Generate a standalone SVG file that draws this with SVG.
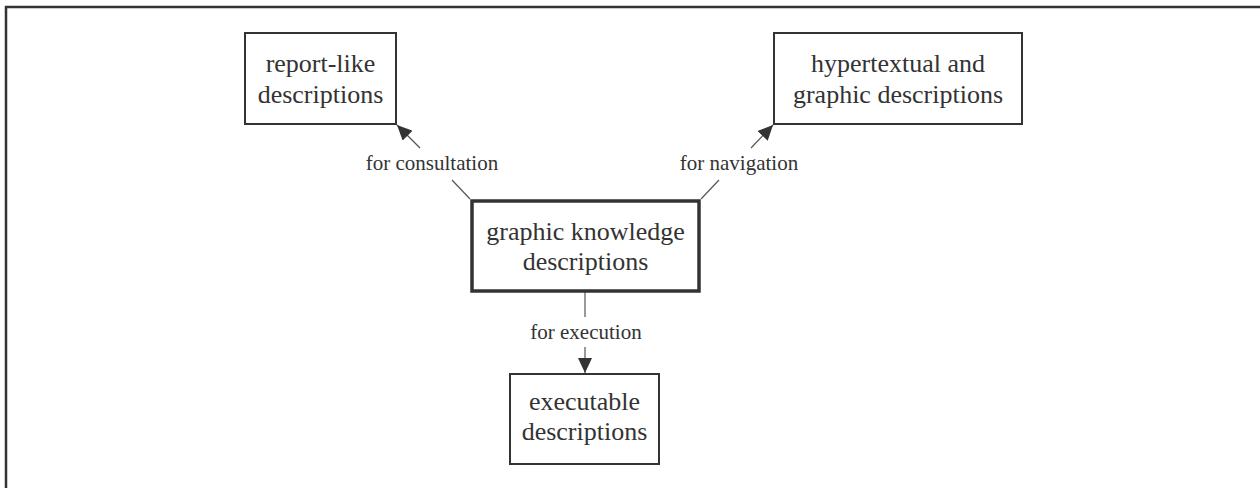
<svg xmlns="http://www.w3.org/2000/svg" width="1260" height="488" viewBox="0 0 1260 488">
<style>
.box{fill:#fff;stroke:#333;stroke-width:2}
.main{fill:#fff;stroke:#333;stroke-width:3.5}
.t{font-family:"Liberation Serif","Times New Roman",serif;font-size:26px;fill:#333;text-anchor:middle}
.lbl{font-family:"Liberation Serif","Times New Roman",serif;font-size:21px;fill:#333;text-anchor:middle}
.ln{stroke:#555;stroke-width:1.2;fill:none}
</style>
<defs>
<marker id="arr" markerUnits="userSpaceOnUse" markerWidth="16" markerHeight="14" refX="15" refY="7" orient="auto">
<path d="M0,0 L15,7 L0,14 z" fill="#333"/>
</marker>
</defs>
<rect x="6" y="7" width="1270" height="500" fill="none" stroke="#333" stroke-width="2.5"/>
<g id="connectors">
<line class="ln" x1="470" y1="199" x2="452" y2="180"/>
<line class="ln" x1="420" y1="148" x2="397" y2="125" marker-end="url(#arr)"/>
<line class="ln" x1="701" y1="199" x2="719" y2="180"/>
<line class="ln" x1="751" y1="148" x2="773" y2="125" marker-end="url(#arr)"/>
<line class="ln" x1="585" y1="292" x2="585" y2="317"/>
<line class="ln" x1="585" y1="347" x2="585" y2="373" marker-end="url(#arr)"/>
<text class="lbl" x="432" y="170">for consultation</text>
<text class="lbl" x="739" y="170">for navigation</text>
<text class="lbl" x="586" y="339">for execution</text>
</g>
<g id="report">
<rect class="box" x="245" y="33" width="151" height="91"/>
<text class="t" x="320.5" y="72">report-like</text>
<text class="t" x="320.5" y="103">descriptions</text>
</g>
<g id="hyper">
<rect class="box" x="774" y="33" width="248" height="91"/>
<text class="t" x="898" y="72">hypertextual and</text>
<text class="t" x="898" y="103">graphic descriptions</text>
</g>
<g id="central">
<rect class="main" x="472" y="201" width="227" height="90"/>
<text class="t" x="585.5" y="240">graphic knowledge</text>
<text class="t" x="585.5" y="270">descriptions</text>
</g>
<g id="exec">
<rect class="box" x="510" y="374" width="149" height="90"/>
<text class="t" x="584.5" y="410">executable</text>
<text class="t" x="584.5" y="440">descriptions</text>
</g>
</svg>
